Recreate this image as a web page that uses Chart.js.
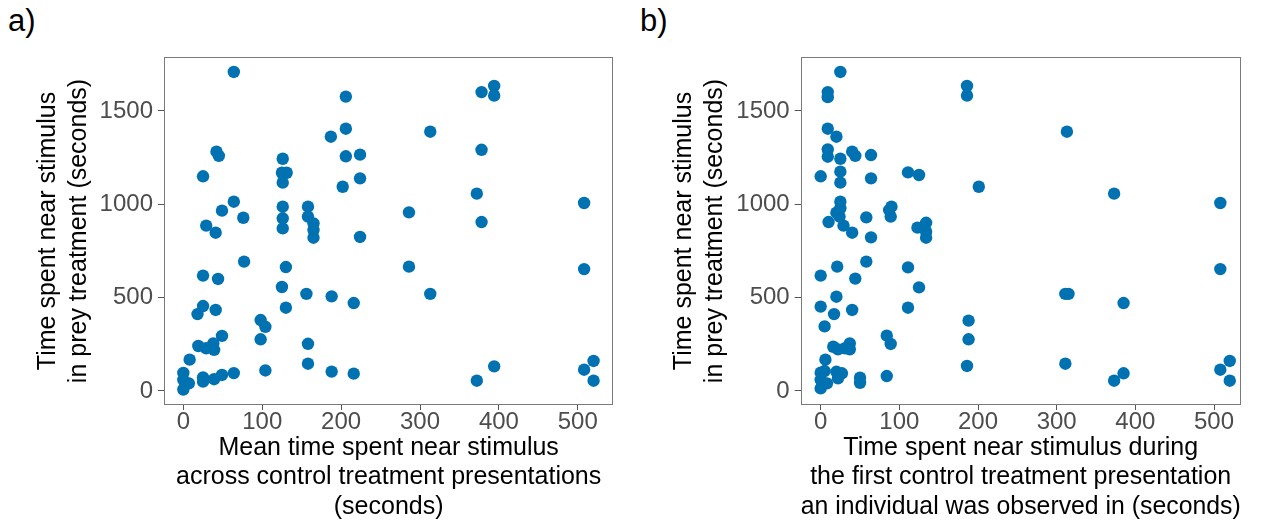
<!DOCTYPE html>
<html>
<head>
<meta charset="utf-8">
<script src="https://cdn.jsdelivr.net/npm/chart.js@4/dist/chart.umd.min.js"></script>
<style>
  html, body { margin:0; padding:0; background:#fff; width:1269px; height:520px; overflow:hidden; }
  canvas { position:absolute; top:0; }
  #cA { left:0; }
  #cB { left:634px; }
  .lbl { position:absolute; top:5px; font-family:'Liberation Sans', Arial, sans-serif; font-size:31px; line-height:31px; color:#000; }
</style>
</head>
<body>
<div class="lbl" style="left:8px">a)</div>
<div class="lbl" style="left:640px">b)</div>
<canvas id="cA" width="634" height="520"></canvas>
<canvas id="cB" width="635" height="520"></canvas>
<script>
// Panel a: mean time near stimulus across control presentations (s) vs time in prey treatment (s)
const meanControlX = [64,206,206,187,42,45,126,206,224,25,125,131,126,224,202,64,49,76,126,126,126,158,158,165,165,165,29,41,224,77,130,25,44,125,156,188,216,25,18,41,130,98,104,49,19,29,38,39,98,158,8,158,104,188,216,64,49,39,25,25,0,0,7,0,394,378,394,313,378,372,508,286,378,286,508,313,394,520,508,520,372];
const preyTimeA = [1709,1577,1405,1362,1282,1260,1244,1257,1266,1150,1169,1169,1116,1139,1094,1014,966,928,987,925,871,987,934,898,862,821,886,848,825,693,664,618,600,557,520,507,471,455,412,434,446,380,344,295,241,229,255,220,277,253,168,146,110,104,93,96,86,63,73,50,97,59,41,8,1634,1601,1582,1389,1292,1057,1007,957,905,666,653,520,132,161,114,55,55];

// Panel b: time near stimulus in first control presentation (s) vs time in prey treatment (s)
const firstControlX = [25,186,186,9,9,9,20,9,9,25,40,44,64,0,25,25,64,111,125,201,25,25,20,24,10,29,40,58,64,87,90,89,123,134,134,134,58,21,0,44,111,125,20,0,17,40,111,188,188,186,5,84,89,16,22,31,37,37,6,0,5,0,0,8,20,27,22,50,50,84,313,373,508,508,311,315,385,311,373,385,520,508,520];
const preyTimeB = [1709,1634,1582,1601,1574,1405,1362,1294,1255,1244,1282,1260,1264,1150,1175,1116,1139,1171,1157,1094,1014,979,955,934,905,886,848,930,823,969,987,934,875,901,853,821,693,666,618,602,662,555,505,452,412,434,446,377,277,134,346,296,252,237,223,229,255,223,168,98,107,59,14,41,103,95,68,71,44,80,1389,1057,1007,653,520,520,471,146,55,95,161,114,55];

const xTickValues = [0,100,200,300,400,500];
const yTickValues = [0,500,1000,1500];

const yTitle = ['Time spent near stimulus', 'in prey treatment (seconds)'];
const xTitleA = ['Mean time spent near stimulus', 'across control treatment presentations', '(seconds)'];
const xTitleB = ['Time spent near stimulus during', 'the first control treatment presentation', 'an individual was observed in (seconds)'];

const FONT = "'Liberation Sans', Arial, Helvetica, sans-serif";
Chart.defaults.font.family = FONT;

const borderPlugin = {
  id: 'panelBorder',
  afterDatasetsDraw(chart) {
    const {ctx, chartArea: a} = chart;
    ctx.save();
    ctx.strokeStyle = '#7a7a7a';
    ctx.lineWidth = 1;
    ctx.strokeRect(Math.round(a.left) + 0.5, Math.round(a.top) + 0.5, Math.round(a.right - a.left) - 1, Math.round(a.bottom - a.top) - 1);
    ctx.restore();
  }
};

function makeChart(id, xs, ys, cfg) {
  const pts = xs.map((x, i) => ({x: x, y: ys[i]}));
  return new Chart(document.getElementById(id), {
    type: 'scatter',
    data: { datasets: [{ data: pts, backgroundColor: '#0072B2', borderWidth: 0, pointRadius: 6.2, pointHoverRadius: 6.2 }] },
    plugins: [borderPlugin],
    options: {
      responsive: false, animation: false, devicePixelRatio: 1,
      events: [],
      layout: { padding: { left: cfg.padLeft, right: cfg.padRight, top: 57, bottom: 0 } },
      plugins: { legend: { display: false }, tooltip: { enabled: false } },
      scales: {
        x: {
          type: 'linear', position: 'bottom', min: cfg.xMin, max: cfg.xMax,
          afterBuildTicks: s => { s.ticks = xTickValues.map(v => ({value: v})); },
          afterFit: s => { s.height = 115; },
          border: { display: false },
          grid: { drawOnChartArea: false, drawTicks: true, tickLength: 5, tickColor: '#555', tickWidth: 1 },
          ticks: { color: '#4D4D4D', font: { size: 24, lineHeight: 1 }, padding: 0, maxRotation: 0, autoSkip: false, callback: v => String(v) },
          title: { display: true, text: cfg.xTitle, color: '#000', font: { size: 25, lineHeight: 1.18 }, padding: { top: 0, bottom: -1.75 } }
        },
        y: {
          type: 'linear', position: 'left', min: -75, max: 1789,
          afterBuildTicks: s => { s.ticks = yTickValues.map(v => ({value: v})); },
          afterFit: s => { s.width = cfg.yWidth; },
          border: { display: false },
          grid: { drawOnChartArea: false, drawTicks: true, tickLength: 6, tickColor: '#555', tickWidth: 1 },
          ticks: { color: '#4D4D4D', font: { size: 24, lineHeight: 1 }, padding: 5, autoSkip: false, callback: v => String(v) },
          title: { display: true, text: yTitle, color: '#000', font: { size: 25, lineHeight: 1.22 }, padding: { top: cfg.yTitlePad, bottom: 0 } }
        }
      }
    }
  });
}

makeChart('cA', meanControlX, preyTimeA, {
  padLeft: 0, padRight: 20.7, yWidth: 164, yTitlePad: 33.2,
  xMin: -24.5, xMax: 545, xTitle: xTitleA
});
makeChart('cB', firstControlX, preyTimeB, {
  padLeft: 0, padRight: 28.3, yWidth: 166.7, yTitlePad: 35.2,
  xMin: -25.4, xMax: 533.9, xTitle: xTitleB
});
</script>
</body>
</html>
